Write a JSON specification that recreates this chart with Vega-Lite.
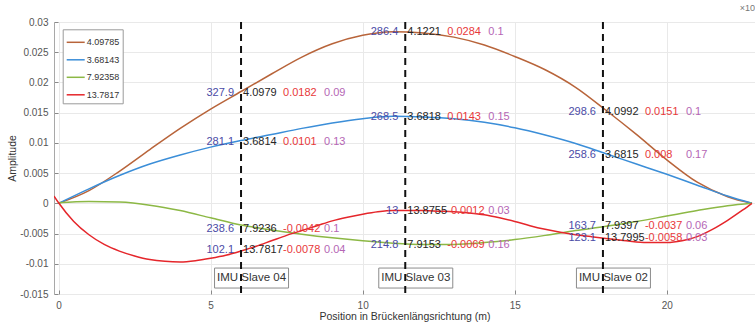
{
  "$schema": "https://vega.github.io/schema/vega-lite/v6.json",
  "width": 701,
  "height": 272,
  "autosize": {"type": "none"},
  "padding": {"left": 54, "top": 22, "right": 0, "bottom": 29},
  "background": "white",
  "title": {"text": "×10", "anchor": "end", "frame": "group", "fontSize": 9, "fontWeight": "normal", "color": "#777", "offset": 4},
  "datasets": {
    "curves": [
      {"m": "4.09785", "x": 0, "y": 0}, {"m": "4.09785", "x": 1, "y": 0.0021}, {"m": "4.09785", "x": 2, "y": 0.0053}, {"m": "4.09785", "x": 3, "y": 0.0089}, {"m": "4.09785", "x": 4, "y": 0.0124}, {"m": "4.09785", "x": 5, "y": 0.0156}, {"m": "4.09785", "x": 6, "y": 0.0185}, {"m": "4.09785", "x": 7, "y": 0.0214}, {"m": "4.09785", "x": 8, "y": 0.0242}, {"m": "4.09785", "x": 9, "y": 0.0264}, {"m": "4.09785", "x": 10, "y": 0.0278}, {"m": "4.09785", "x": 11, "y": 0.0284}, {"m": "4.09785", "x": 12, "y": 0.0282}, {"m": "4.09785", "x": 13, "y": 0.0275}, {"m": "4.09785", "x": 14, "y": 0.0262}, {"m": "4.09785", "x": 15, "y": 0.0243}, {"m": "4.09785", "x": 16, "y": 0.0221}, {"m": "4.09785", "x": 17, "y": 0.0192}, {"m": "4.09785", "x": 18, "y": 0.0154}, {"m": "4.09785", "x": 19, "y": 0.0114}, {"m": "4.09785", "x": 20, "y": 0.0072}, {"m": "4.09785", "x": 21, "y": 0.0035}, {"m": "4.09785", "x": 22, "y": 0.0011}, {"m": "4.09785", "x": 22.8, "y": 0},
      {"m": "3.68143", "x": 0, "y": 0}, {"m": "3.68143", "x": 1, "y": 0.0024}, {"m": "3.68143", "x": 2, "y": 0.0046}, {"m": "3.68143", "x": 3, "y": 0.0065}, {"m": "3.68143", "x": 4, "y": 0.008}, {"m": "3.68143", "x": 5, "y": 0.0093}, {"m": "3.68143", "x": 6, "y": 0.0104}, {"m": "3.68143", "x": 7, "y": 0.0114}, {"m": "3.68143", "x": 8, "y": 0.0124}, {"m": "3.68143", "x": 9, "y": 0.0133}, {"m": "3.68143", "x": 10, "y": 0.014}, {"m": "3.68143", "x": 11, "y": 0.0144}, {"m": "3.68143", "x": 12, "y": 0.0143}, {"m": "3.68143", "x": 13, "y": 0.014}, {"m": "3.68143", "x": 14, "y": 0.0134}, {"m": "3.68143", "x": 15, "y": 0.0125}, {"m": "3.68143", "x": 16, "y": 0.0113}, {"m": "3.68143", "x": 17, "y": 0.0099}, {"m": "3.68143", "x": 18, "y": 0.0082}, {"m": "3.68143", "x": 19, "y": 0.0065}, {"m": "3.68143", "x": 20, "y": 0.0048}, {"m": "3.68143", "x": 21, "y": 0.003}, {"m": "3.68143", "x": 22, "y": 0.0012}, {"m": "3.68143", "x": 22.8, "y": 0},
      {"m": "7.92358", "x": 0, "y": 0.0001}, {"m": "7.92358", "x": 1, "y": 0.0003}, {"m": "7.92358", "x": 2, "y": 0.0002}, {"m": "7.92358", "x": 3, "y": -0.0003}, {"m": "7.92358", "x": 4, "y": -0.0012}, {"m": "7.92358", "x": 5, "y": -0.0024}, {"m": "7.92358", "x": 6, "y": -0.0036}, {"m": "7.92358", "x": 7, "y": -0.0044}, {"m": "7.92358", "x": 8, "y": -0.0051}, {"m": "7.92358", "x": 9, "y": -0.0057}, {"m": "7.92358", "x": 10, "y": -0.0062}, {"m": "7.92358", "x": 11, "y": -0.0066}, {"m": "7.92358", "x": 12, "y": -0.0068}, {"m": "7.92358", "x": 13, "y": -0.0068}, {"m": "7.92358", "x": 14, "y": -0.0065}, {"m": "7.92358", "x": 15, "y": -0.006}, {"m": "7.92358", "x": 16, "y": -0.0053}, {"m": "7.92358", "x": 17, "y": -0.0045}, {"m": "7.92358", "x": 18, "y": -0.0038}, {"m": "7.92358", "x": 19, "y": -0.003}, {"m": "7.92358", "x": 20, "y": -0.0021}, {"m": "7.92358", "x": 21, "y": -0.0012}, {"m": "7.92358", "x": 22, "y": -0.0004}, {"m": "7.92358", "x": 22.8, "y": 0},
      {"m": "13.7817", "x": -0.15, "y": 0.0012}, {"m": "13.7817", "x": 0, "y": 0.0001}, {"m": "13.7817", "x": 0.5, "y": -0.003}, {"m": "13.7817", "x": 1, "y": -0.0052}, {"m": "13.7817", "x": 1.5, "y": -0.0068}, {"m": "13.7817", "x": 2, "y": -0.0079}, {"m": "13.7817", "x": 2.5, "y": -0.0087}, {"m": "13.7817", "x": 3, "y": -0.0093}, {"m": "13.7817", "x": 3.5, "y": -0.0096}, {"m": "13.7817", "x": 4, "y": -0.0097}, {"m": "13.7817", "x": 4.5, "y": -0.0095}, {"m": "13.7817", "x": 5, "y": -0.0091}, {"m": "13.7817", "x": 5.5, "y": -0.0086}, {"m": "13.7817", "x": 6, "y": -0.0079}, {"m": "13.7817", "x": 6.5, "y": -0.0071}, {"m": "13.7817", "x": 7, "y": -0.0062}, {"m": "13.7817", "x": 7.5, "y": -0.0053}, {"m": "13.7817", "x": 8, "y": -0.0045}, {"m": "13.7817", "x": 8.5, "y": -0.0037}, {"m": "13.7817", "x": 9, "y": -0.0029}, {"m": "13.7817", "x": 9.5, "y": -0.0023}, {"m": "13.7817", "x": 10, "y": -0.0018}, {"m": "13.7817", "x": 10.5, "y": -0.0014}, {"m": "13.7817", "x": 11, "y": -0.0012}, {"m": "13.7817", "x": 11.5, "y": -0.0012}, {"m": "13.7817", "x": 12, "y": -0.0012}, {"m": "13.7817", "x": 12.5, "y": -0.0013}, {"m": "13.7817", "x": 13, "y": -0.0014}, {"m": "13.7817", "x": 13.5, "y": -0.0016}, {"m": "13.7817", "x": 14, "y": -0.0019}, {"m": "13.7817", "x": 14.5, "y": -0.0024}, {"m": "13.7817", "x": 15, "y": -0.003}, {"m": "13.7817", "x": 15.5, "y": -0.0037}, {"m": "13.7817", "x": 16, "y": -0.0043}, {"m": "13.7817", "x": 16.5, "y": -0.0048}, {"m": "13.7817", "x": 17, "y": -0.0052}, {"m": "13.7817", "x": 17.5, "y": -0.0055}, {"m": "13.7817", "x": 18, "y": -0.0058}, {"m": "13.7817", "x": 18.5, "y": -0.0061}, {"m": "13.7817", "x": 19, "y": -0.0064}, {"m": "13.7817", "x": 19.5, "y": -0.0065}, {"m": "13.7817", "x": 20, "y": -0.0065}, {"m": "13.7817", "x": 20.5, "y": -0.0062}, {"m": "13.7817", "x": 21, "y": -0.0055}, {"m": "13.7817", "x": 21.5, "y": -0.0043}, {"m": "13.7817", "x": 22, "y": -0.0028}, {"m": "13.7817", "x": 22.5, "y": -0.0011}, {"m": "13.7817", "x": 22.8, "y": 0}
    ],
    "imu": [
      {"pos": 6.0, "name": "IMU Slave 04"},
      {"pos": 11.4, "name": "IMU Slave 03"},
      {"pos": 17.9, "name": "IMU Slave 02"}
    ],
    "ann": [
      {"pos": 6.0, "amp": 0.0182, "a": "327.9", "f": "4.0979", "r": "0.0182", "d": "0.09"},
      {"pos": 6.0, "amp": 0.0101, "a": "281.1", "f": "3.6814", "r": "0.0101", "d": "0.13"},
      {"pos": 6.0, "amp": -0.0042, "a": "238.6", "f": "7.9236", "r": "-0.0042", "d": "0.1"},
      {"pos": 6.0, "amp": -0.0078, "a": "102.1", "f": "13.7817", "r": "-0.0078", "d": "0.04"},
      {"pos": 11.4, "amp": 0.0284, "a": "286.4", "f": "4.1221", "r": "0.0284", "d": "0.1"},
      {"pos": 11.4, "amp": 0.0143, "a": "268.5", "f": "3.6818", "r": "0.0143", "d": "0.15"},
      {"pos": 11.4, "amp": -0.0012, "a": "13", "f": "13.8755", "r": "-0.0012", "d": "0.03"},
      {"pos": 11.4, "amp": -0.0069, "a": "214.8", "f": "7.9153", "r": "-0.0069", "d": "0.16"},
      {"pos": 17.9, "amp": 0.0151, "a": "298.6", "f": "4.0992", "r": "0.0151", "d": "0.1"},
      {"pos": 17.9, "amp": 0.008, "a": "258.6", "f": "3.6815", "r": "0.008", "d": "0.17"},
      {"pos": 17.9, "amp": -0.0037, "a": "163.7", "f": "7.9397", "r": "-0.0037", "d": "0.06"},
      {"pos": 17.9, "amp": -0.0058, "a": "123.1", "f": "13.7995", "r": "-0.0058", "d": "0.03"}
    ]
  },
  "layer": [
    {
      "data": {"name": "curves"},
      "mark": {"type": "line", "strokeWidth": 1.5, "interpolate": "monotone", "clip": true},
      "encoding": {
        "x": {"field": "x", "type": "quantitative", "scale": {"domain": [-0.15, 22.9], "nice": false, "zero": false},
          "axis": {"values": [0, 5, 10, 15, 20], "tickCount": 10, "format": "d", "title": "Position in Brückenlängsrichtung (m)", "titleY": 22}},
        "y": {"field": "y", "type": "quantitative", "scale": {"domain": [-0.015, 0.03], "nice": false},
          "axis": {"values": [-0.015, -0.01, -0.005, 0, 0.005, 0.01, 0.015, 0.02, 0.025, 0.03],
            "tickCount": 12, "labelOverlap": false,
            "labelExpr": "replace(format(datum.value, '~g'), '−', '-')", "title": "Amplitude", "titleX": -42, "titleY": 136, "titleAngle": 270}},
        "color": {"field": "m", "type": "nominal",
          "scale": {"domain": ["4.09785", "3.68143", "7.92358", "13.7817"], "range": ["#B8643A", "#3B8ED8", "#8CB845", "#E5262B"]},
          "legend": {"title": null}}
      }
    },
    {
      "data": {"name": "imu"},
      "mark": {"type": "point", "shape": "M-0.716,-0.27L1.284,-0.27L1.284,0.27L-0.716,0.27Z", "size": 5476, "filled": true, "fill": "white", "stroke": "#8c8c8c", "strokeWidth": 1, "opacity": 1},
      "encoding": {
        "x": {"field": "pos", "type": "quantitative"},
        "y": {"datum": -0.01236}
      }
    },
    {
      "data": {"name": "imu"},
      "mark": {"type": "rule", "color": "#111", "strokeWidth": 2, "strokeDash": [7, 5]},
      "encoding": {
        "x": {"field": "pos", "type": "quantitative"}
      }
    },
    {
      "data": {"name": "imu"},
      "mark": {"type": "text", "dx": 10.5, "align": "center", "baseline": "middle", "fontSize": 11.5, "color": "#333"},
      "encoding": {
        "x": {"field": "pos", "type": "quantitative"},
        "y": {"datum": -0.01236},
        "text": {"field": "name"}
      }
    },
    {
      "data": {"name": "ann"},
      "mark": {"type": "text", "dx": -7, "align": "right", "baseline": "middle", "fontSize": 11, "color": "#4B4BA6"},
      "encoding": {
        "x": {"field": "pos", "type": "quantitative"},
        "y": {"field": "amp", "type": "quantitative"},
        "text": {"field": "a"}
      }
    },
    {
      "data": {"name": "ann"},
      "mark": {"type": "text", "dx": 2, "align": "left", "baseline": "middle", "fontSize": 11, "color": "#262626"},
      "encoding": {
        "x": {"field": "pos", "type": "quantitative"},
        "y": {"field": "amp", "type": "quantitative"},
        "text": {"field": "f"}
      }
    },
    {
      "data": {"name": "ann"},
      "mark": {"type": "text", "dx": 42, "align": "left", "baseline": "middle", "fontSize": 11, "color": "#E8383A"},
      "encoding": {
        "x": {"field": "pos", "type": "quantitative"},
        "y": {"field": "amp", "type": "quantitative"},
        "text": {"field": "r"}
      }
    },
    {
      "data": {"name": "ann"},
      "mark": {"type": "text", "dx": 83, "align": "left", "baseline": "middle", "fontSize": 11, "color": "#B566B5"},
      "encoding": {
        "x": {"field": "pos", "type": "quantitative"},
        "y": {"field": "amp", "type": "quantitative"},
        "text": {"field": "d"}
      }
    }
  ],
  "config": {
    "font": "Liberation Sans",
    "view": {"stroke": "#a8a8a8", "strokeWidth": 1},
    "axis": {
      "grid": true, "gridColor": "#e9e9e9", "domain": false, "labelOverlap": false,
      "tickSize": -4, "tickColor": "#8a8a8a", "labelPadding": 10,
      "labelFontSize": 10, "labelColor": "#555", "labelFont": "Liberation Sans",
      "titleFontSize": 10.5, "titleFontWeight": "normal", "titleColor": "#333", "titleFont": "Liberation Sans",
      "titleBaseline": "middle", "titleAlign": "center"
    },
    "legend": {
      "orient": "none", "legendX": 8.7, "legendY": 7.3,
      "symbolType": "stroke", "symbolSize": 324, "symbolStrokeWidth": 1.5,
      "labelFontSize": 9, "labelColor": "#333", "labelOffset": 1,
      "padding": 3, "rowPadding": 2.5,
      "strokeColor": "#9a9a9a", "fillColor": "white"
    }
  }
}
